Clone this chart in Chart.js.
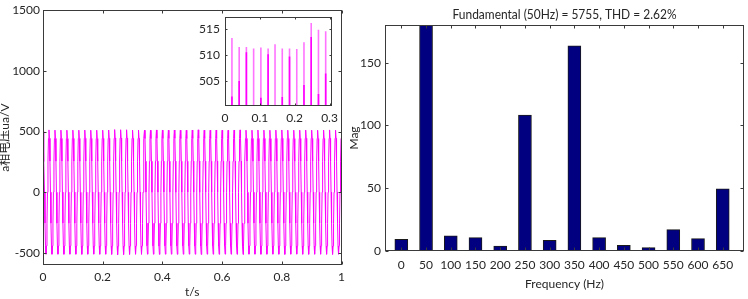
<!DOCTYPE html>
<html><head><meta charset="utf-8">
<script src="https://cdn.jsdelivr.net/npm/chart.js@4.4.1/dist/chart.umd.min.js"></script>
<style>
html,body{margin:0;padding:0;background:#fff;width:748px;height:299px;overflow:hidden;position:relative}
canvas{position:absolute;display:block}
#c1{left:0;top:0;width:350px;height:299px}
#c2{left:346px;top:0;width:402px;height:299px}
#c3{left:195px;top:5px;width:148px;height:121px}
</style></head><body>
<canvas id="c1" width="350" height="299"></canvas>
<canvas id="c2" width="402" height="299"></canvas>
<canvas id="c3" width="148" height="121"></canvas>
<script>
// ---------- data ----------
const sampleRate = 600; // samples per second of the phase-a voltage record
const phaseVoltage = [
 500.6, 435, 252, 1, -255, -442, -510.8, -443, -256, -1, 256, 444,
 513.2, 444, 256, 0, -256, -443, -511.3, -442, -255, 1, 256, 443,
 511.5, 443, 255, -1, -256, -443, -511.0, -443, -256, 0, 255, 443,
 511.5, 443, 256, 1, -255, -442, -511.6, -443, -256, -1, 256, 442,
 511.2, 442, 255, 0, -256, -443, -510.9, -442, -255, 0, 256, 443,
 511.4, 443, 256, 1, -256, -443, -511.2, -443, -256, 1, 255, 443,
 511.2, 443, 255, -1, -255, -442, -511.8, -443, -256, 0, 256, 444,
 512.0, 444, 256, 0, -256, -443, -511.1, -442, -255, -1, 256, 443,
 511.2, 443, 256, 1, -256, -443, -510.7, -443, -256, 0, 255, 442,
 511.2, 442, 255, 0, -255, -442, -511.4, -443, -256, 1, 256, 443,
 511.1, 443, 256, -1, -256, -443, -511.0, -442, -255, 0, 256, 443,
 512.4, 444, 256, 0, -256, -444, -512.2, -443, -256, -1, 256, 444,
 516.1, 447, 258, 1, -257, -446, -514.9, -445, -257, 0, 257, 446,
 514.8, 446, 257, 0, -257, -445, -513.6, -444, -256, 1, 257, 445,
 514.5, 445, 257, -1, -256, -444, -512.4, -443, -256, 0, 256, 444,
 511.3, 443, 256, 0, -256, -443, -511.1, -442, -255, -1, 256, 443,
 512.1, 443, 256, 1, -256, -443, -511.5, -443, -256, 0, 256, 443,
 511.0, 442, 255, 0, -255, -442, -510.8, -442, -255, 1, 255, 442,
 510.8, 442, 255, -1, -256, -443, -511.2, -443, -256, 0, 256, 443,
 513.0, 444, 256, 0, -256, -444, -512.6, -443, -256, -1, 256, 444,
 511.6, 443, 256, 1, -256, -443, -511.0, -442, -255, 0, 256, 443,
 511.2, 443, 255, 0, -255, -442, -510.9, -443, -256, 1, 256, 443,
 512.5, 444, 256, -1, -256, -443, -511.7, -443, -256, 0, 256, 444,
 511.0, 442, 255, 0, -256, -443, -511.3, -442, -255, -1, 255, 442,
 510.9, 442, 255, 1, -255, -442, -510.8, -442, -256, 0, 256, 443,
 511.8, 443, 256, 0, -256, -443, -511.4, -443, -256, 1, 256, 443,
 514.0, 445, 257, -1, -256, -444, -513.1, -444, -256, 0, 257, 445,
 511.4, 443, 256, 0, -256, -443, -511.0, -442, -255, -1, 256, 443,
 511.2, 443, 255, 1, -255, -442, -511.2, -443, -256, 0, 255, 442,
 512.3, 444, 256, 0, -256, -443, -511.9, -443, -256, 1, 256, 443,
 511.0, 442, 255, -1, -255, -442, -510.7, -442, -255, 0, 256, 443,
 510.7, 442, 255, 0, -256, -443, -511.1, -443, -256, -1, 255, 442,
 511.9, 443, 256, 1, -256, -443, -511.6, -443, -256, 0, 256, 443,
 513.4, 445, 257, 0, -256, -444, -512.8, -444, -256, 1, 256, 444,
 511.3, 443, 256, -1, -256, -443, -511.0, -442, -255, 0, 256, 443,
 511.1, 443, 255, 0, -255, -442, -510.9, -442, -255, -1, 255, 442,
 512.0, 443, 256, 1, -256, -443, -511.5, -443, -256, 0, 256, 443,
 511.5, 443, 256, 0, -256, -443, -511.2, -443, -256, 1, 256, 443,
 510.9, 442, 255, -1, -255, -442, -510.8, -442, -255, 0, 255, 442,
 511.7, 443, 256, 0, -256, -443, -511.3, -443, -256, -1, 256, 443,
 512.8, 444, 256, 1, -256, -444, -512.3, -443, -256, 0, 256, 444,
 511.2, 443, 256, 0, -256, -443, -511.0, -442, -255, 1, 256, 443,
 511.0, 442, 255, -1, -255, -442, -510.6, -442, -255, 0, 255, 442,
 511.6, 443, 256, 0, -256, -443, -511.4, -443, -256, -1, 256, 443,
 512.2, 444, 256, 1, -256, -443, -511.8, -443, -256, 0, 256, 444,
 511.4, 443, 256, 0, -256, -443, -511.1, -442, -255, 1, 256, 443,
 510.8, 442, 255, -1, -255, -442, -510.9, -442, -255, 0, 255, 442,
 511.9, 443, 256, 0, -256, -443, -511.5, -443, -256, -1, 256, 443,
 513.1, 444, 256, 1, -256, -444, -512.4, -443, -256, 0, 256, 444,
 511.3, 443, 256, 0, -256, -443, -511.0, -442, -255, 1, 256, 443,
 511.0
];
const mainXTicks = [0, 0.2, 0.4, 0.6, 0.8, 1];
const mainXTickLabels = ['0', '0.2', '0.4', '0.6', '0.8', '1'];
const mainYTicks = [-500, 0, 500, 1000, 1500];
const mainYTickLabels = ['-500', '0', '500', '1000', '1500'];

// inset (zoom of the positive peaks, 0 - 0.3 s)
const insetPeakTimes  = [0.0199, 0.0407, 0.0614, 0.0822, 0.1030, 0.1238, 0.1436, 0.1644, 0.1852, 0.2060, 0.2267, 0.2475, 0.2683, 0.2890];
const insetPeakValues = [513.2, 511.5, 511.5, 511.2, 511.4, 511.2, 512.0, 511.2, 511.2, 511.1, 512.4, 516.1, 514.8, 514.5];
const insetNextValues = [502.0, 505.0, 510.5, 499.0, 501.8, 510.1, 499.0, 501.9, 509.7, 499.0, 504.2, 513.4, 502.5, 506.4];
const insetStartValue = 500.6;
const insetBaseValue = 495;
const insetXTicks = [0, 0.1, 0.2, 0.3];
const insetXTickLabels = ['0', '0.1', '0.2', '0.3'];
const insetYTicks = [505, 510, 515];
const insetYTickLabels = ['505', '510', '515'];

// FFT spectrum
const frequencies = [0, 50, 100, 150, 200, 250, 300, 350, 400, 450, 500, 550, 600, 650];
const magnitudes  = [9.3, 5755, 12.0, 10.6, 4.0, 108.3, 8.5, 163.5, 10.6, 4.5, 2.7, 17.0, 9.8, 49.5];
const specXTickLabels = ['0', '50', '100', '150', '200', '250', '300', '350', '400', '450', '500', '550', '600', '650'];
const specYTicks = [0, 50, 100, 150];
const specYTickLabels = ['0', '50', '100', '150'];
const specTitle = 'Fundamental (50Hz) = 5755, THD = 2.62%';

// ---------- rendering ----------
const FONT = 'Lato, "Noto Sans CJK SC", sans-serif';
const INK = '#262626';
Chart.defaults.font.family = FONT;
Chart.defaults.font.size = 12;
Chart.defaults.color = INK;
Chart.defaults.animation = false;

const framePlugin = {
  id: 'frame',
  beforeDatasetsDraw(chart, args, opts) {
    if (opts.fill) {
      const a = chart.chartArea, ctx = chart.ctx;
      ctx.save(); ctx.fillStyle = opts.fill;
      ctx.fillRect(a.left, a.top, a.right - a.left, a.bottom - a.top);
      ctx.restore();
    }
  },
  afterDatasetsDraw(chart, args, opts) {
    const ctx = chart.ctx, a = chart.chartArea, x = chart.scales.x, y = chart.scales.y;
    const L = Math.round(a.left) + 0.5, R = Math.round(a.right) - 0.5;
    const T = Math.round(a.top) + 0.5, B = Math.round(a.bottom) - 0.5;
    const len = opts.len || 3;
    ctx.save();
    ctx.strokeStyle = opts.color || '#3a3a3a';
    ctx.lineWidth = 1;
    ctx.strokeRect(L, T, R - L, B - T);
    ctx.beginPath();
    x.ticks.forEach(t => {
      const px = Math.round(x.getPixelForValue(t.value)) + 0.5;
      ctx.moveTo(px, B); ctx.lineTo(px, B - len);
      ctx.moveTo(px, T); ctx.lineTo(px, T + len);
    });
    y.ticks.forEach(t => {
      const py = Math.round(y.getPixelForValue(t.value)) + 0.5;
      ctx.moveTo(L, py); ctx.lineTo(L + len, py);
      ctx.moveTo(R, py); ctx.lineTo(R - len, py);
    });
    ctx.stroke();
    ctx.restore();
  }
};

// plot title drawn as canvas text, fitted to the width it has in the figure
const fittedTitlePlugin = {
  id: 'fittedTitle',
  afterDraw(chart, args, opts) {
    const ctx = chart.ctx, a = chart.chartArea;
    ctx.save();
    ctx.font = `${opts.size}px ${FONT}`;
    ctx.fillStyle = INK;
    ctx.textAlign = 'center';
    ctx.textBaseline = 'middle';
    ctx.fillText(opts.text, (a.left + a.right) / 2, opts.y, opts.maxWidth);
    ctx.restore();
  }
};

function fixedTicks(values) {
  return s => { s.ticks = values.map(v => ({ value: v })); };
}
const noGrid = { display: false, drawTicks: false };

// main waveform
new Chart(document.getElementById('c1'), {
  type: 'line',
  data: {
    datasets: [{
      data: phaseVoltage.map((v, i) => ({ x: i / sampleRate, y: v })),
      borderColor: '#ff00ff', borderWidth: 1, pointRadius: 0, tension: 0, fill: false
    }]
  },
  options: {
    responsive: false, events: [],
    layout: { padding: { top: 7, right: 4, left: 0, bottom: 0 } },
    plugins: { legend: { display: false }, tooltip: { enabled: false }, frame: { len: 3 } },
    scales: {
      x: {
        type: 'linear', min: 0, max: 1, grid: noGrid, border: { display: false },
        afterBuildTicks: fixedTicks(mainXTicks),
        afterFit: s => { s.height = 34; },
        ticks: { padding: 5, maxRotation: 0, autoSkip: false, callback: (v, i) => mainXTickLabels[i] },
        title: { display: true, text: 't/s', font: { size: 12 }, padding: { top: 0, bottom: 0 } }
      },
      y: {
        type: 'linear', min: -600, max: 1500, grid: noGrid, border: { display: false },
        afterBuildTicks: fixedTicks(mainYTicks),
        afterFit: s => { s.width = 43; },
        ticks: { padding: 3, autoSkip: false, callback: (v, i) => mainYTickLabels[i] },
        title: { display: true, text: 'a相电压ua/V', font: { size: 12 }, padding: { top: -2, bottom: 0 } }
      }
    }
  },
  plugins: [framePlugin]
});

// inset
const lightSpikes = [], darkSpikes = [{ x: 0, y: insetBaseValue }, { x: 0, y: insetStartValue }, { x: 0, y: null }];
insetPeakTimes.forEach((t, i) => {
  lightSpikes.push({ x: t, y: insetBaseValue }, { x: t, y: insetPeakValues[i] }, { x: t, y: null });
  darkSpikes.push({ x: t, y: insetBaseValue }, { x: t, y: insetNextValues[i] }, { x: t, y: null });
});
new Chart(document.getElementById('c3'), {
  type: 'line',
  data: {
    datasets: [
      { data: lightSpikes, borderColor: 'rgba(255,0,255,0.55)', borderWidth: 1.6, pointRadius: 0, spanGaps: false },
      { data: darkSpikes, borderColor: '#ff00ff', borderWidth: 1.6, pointRadius: 0, spanGaps: false }
    ]
  },
  options: {
    responsive: false, events: [],
    layout: { padding: { top: 7, right: 5, left: 0, bottom: 0 } },
    plugins: { legend: { display: false }, tooltip: { enabled: false }, frame: { len: 2, fill: '#ffffff' } },
    scales: {
      x: {
        type: 'linear', min: 0, max: 0.307, grid: noGrid, border: { display: false },
        afterBuildTicks: fixedTicks(insetXTicks),
        afterFit: s => { s.height = 20; },
        ticks: { padding: 5, maxRotation: 0, autoSkip: false, callback: (v, i) => insetXTickLabels[i] }
      },
      y: {
        type: 'linear', min: 500.2, max: 517.2, grid: noGrid, border: { display: false },
        afterBuildTicks: fixedTicks(insetYTicks),
        afterFit: s => { s.width = 30; },
        ticks: { padding: 5, autoSkip: false, callback: (v, i) => insetYTickLabels[i] }
      }
    }
  },
  plugins: [framePlugin]
});

// spectrum
new Chart(document.getElementById('c2'), {
  type: 'bar',
  data: {
    datasets: [{
      data: frequencies.map((f, i) => ({ x: f, y: magnitudes[i] })),
      backgroundColor: '#000080', borderColor: '#1a1a1a', borderWidth: 1,
      borderSkipped: false, barThickness: 13
    }]
  },
  options: {
    responsive: false, events: [],
    layout: { padding: { top: 25, right: 4, left: 0, bottom: 0 } },
    plugins: {
      legend: { display: false }, tooltip: { enabled: false }, frame: { len: 3 },
      fittedTitle: { text: specTitle, size: 12.5, y: 15, maxWidth: 224 }
    },
    scales: {
      x: {
        type: 'linear', min: -33, max: 693, offset: false, grid: noGrid, border: { display: false },
        afterBuildTicks: fixedTicks(frequencies),
        afterFit: s => { s.height = 48; },
        ticks: { padding: 7, maxRotation: 0, autoSkip: false, callback: (v, i) => specXTickLabels[i] },
        title: { display: true, text: 'Frequency (Hz)', font: { size: 12 }, padding: { top: 0, bottom: 8 } }
      },
      y: {
        type: 'linear', min: 0, max: 180, grid: noGrid, border: { display: false },
        afterBuildTicks: fixedTicks(specYTicks),
        afterFit: s => { s.width = 39; },
        ticks: { padding: 4, autoSkip: false, callback: (v, i) => specYTickLabels[i] },
        title: { display: true, text: 'Mag', font: { size: 12 }, padding: { top: 1, bottom: 0 } }
      }
    }
  },
  plugins: [framePlugin, fittedTitlePlugin]
});
</script></body></html>
